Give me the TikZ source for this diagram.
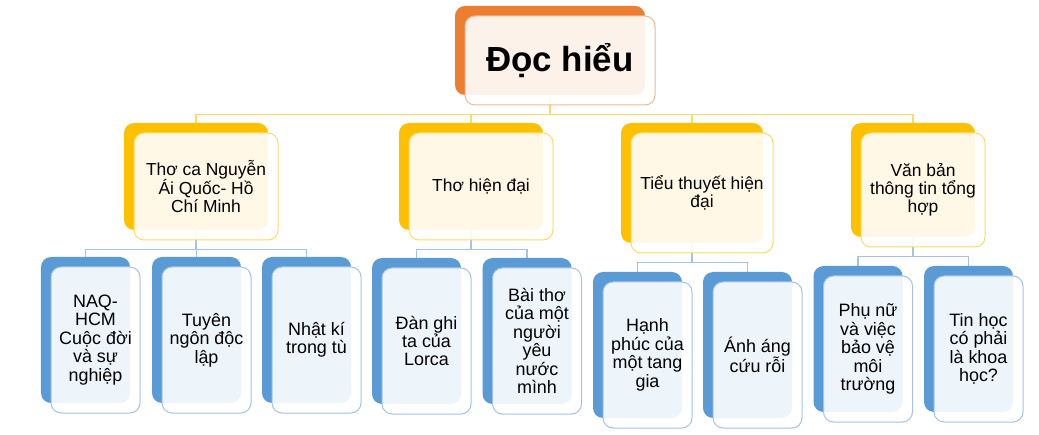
\documentclass[tikz,border=0pt]{standalone}
\usepackage{fontspec}
\setmainfont{Liberation Sans}
\usepackage{tikz}
\usetikzlibrary{calc}
\usetikzlibrary{backgrounds}
\definecolor{rootorange}{HTML}{ED7D31}
\definecolor{rootrim}{HTML}{EDB992}
\definecolor{topicyellow}{HTML}{FFC000}
\definecolor{topicrim}{HTML}{FFD966}
\definecolor{leafblue}{HTML}{5B9BD5}
\definecolor{leafrim}{HTML}{A3C4E4}
\tikzstyle{box} = [rectangle, rounded corners = 10bp, inner sep = 0, align = center]
\tikzstyle{front} = [box, line width = 1bp, fill = white, fill opacity = .9, text opacity = 1]
\tikzstyle{root back} = [box, fill = rootorange, minimum width = 190bp, minimum height = 89bp]
\tikzstyle{root front} = [front, draw = rootrim, minimum width = 190bp, minimum height = 89bp,
    font = \fontsize{35}{37}\selectfont\bfseries]
\tikzstyle{topic back} = [box, fill = topicyellow]
\tikzstyle{topic front} = [front, draw = topicrim, font = \fontsize{17.5}{18}\selectfont]
\tikzstyle{leaf back} = [box, fill = leafblue, minimum width = 89bp, minimum height = 146bp]
\tikzstyle{leaf front} = [front, draw = leafrim, minimum width = 89bp, minimum height = 146bp,
    font = \fontsize{18}{18.5}\selectfont]
\tikzstyle{topic link} = [draw = topicrim, line width = 1.2bp]
\tikzstyle{leaf link} = [draw = leafrim, line width = 1.2bp]

\begin{document}
\begin{tikzpicture}[x = 1bp, y = -1bp]
    \useasboundingbox (0, 0) rectangle (1039, 435);
    \node [root back] (root) at (550, 50.5) {};
    \node [root front] (froot) at ($(root) + (10, 10)$) {Đọc hiểu};
    \foreach \name/\x/\y/\w/\h/\txt in {
        t1/196/176.5/144/107/{Thơ ca Nguyễn\\Ái Quốc- Hồ\\Chí Minh},
        t2/471/176.5/144/107/{Thơ hiện đại},
        t3/692/183/142/120/{Tiểu thuyết hiện\\đại},
        t4/913/180/124/114/{Văn bản\\thông tin tổng\\hợp}}
    {
        \node [topic back, minimum width = \w bp, minimum height = \h bp] (\name) at (\x, \y) {};
        \node [topic front, minimum width = \w bp, minimum height = \h bp] (f\name) at (\x + 10, \y + 10) {\txt};
    }
    \foreach \name/\x/\y/\txt in {
        c1/85.5/330/{NAQ-\\HCM\\Cuộc đời\\và sự\\nghiệp},
        c2/196.5/330/{Tuyên\\ngôn độc\\lập},
        c3/306.5/330/{Nhật kí\\trong tù},
        c4/416.5/331/{Đàn ghi\\ta của\\Lorca},
        c5/527/331/{Bài thơ\\của một\\người\\yêu\\nước\\mình},
        c6/637.5/345/{Hạnh\\phúc của\\một tang\\gia},
        c7/747.5/345/{Ánh áng\\cứu rỗi},
        c8/858/339/{Phụ nữ\\và việc\\bảo vệ\\môi\\trường},
        c9/968.5/339/{Tin học\\có phải\\là khoa\\học?}}
    {
        \node [leaf back] (\name) at (\x, \y) {};
        \node [leaf front] (f\name) at (\x + 10, \y + 10) {\txt};
    }
    % connectors go under the boxes
    \begin{scope}[on background layer]
        \foreach \c in {t1, t2, t3, t4}
            \draw [topic link] (root.south) -- ++(0, 19) -| (\c.north);
        \foreach \p/\c in {t1/c1, t1/c2, t1/c3, t2/c4, t2/c5, t3/c6, t3/c7, t4/c8, t4/c9}
            \draw [leaf link] (\p.south) -- ++(0, 19) -| (\c.north);
    \end{scope}
\end{tikzpicture}
\end{document}
